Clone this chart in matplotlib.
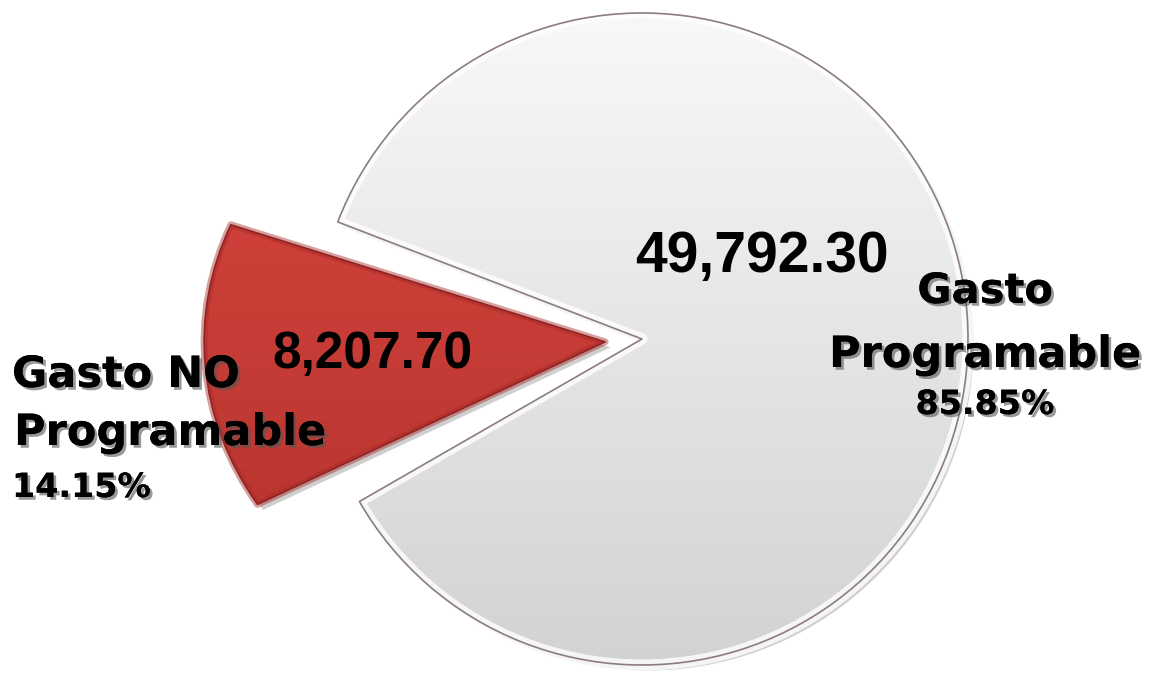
import numpy as np
import matplotlib
matplotlib.use("Agg")
import matplotlib.pyplot as plt
from matplotlib.transforms import Affine2D
import matplotlib.patheffects as pe
import copy

# ---- data ----
categories = ["Gasto Programable", "Gasto NO Programable"]
values = [49792.30, 8207.70]
percent_labels = ["85.85%", "14.15%"]
value_labels = ["49,792.30", "8,207.70"]

W, H = 1154, 673
fig = plt.figure(figsize=(W / 100, H / 100), dpi=100)
ax = fig.add_axes([0, 0, 1, 1])

center = (642, 334)
radius = 326
start = 209.9

# gray (programable) pie
gw, _ = ax.pie(values, colors=["#e8e8e8", "none"], startangle=start,
               counterclock=True, center=center, radius=radius,
               wedgeprops=dict(linewidth=0))
# red (no programable) pie, exploded (explode is in data units here)
rw, _ = ax.pie(values, colors=["none", "#c83c36"], startangle=start,
               counterclock=True, center=center, radius=radius,
               explode=[0, 37], wedgeprops=dict(linewidth=0))
gw[1].set_visible(False)
rw[0].set_visible(False)

ax.set_xlim(0, W)
ax.set_ylim(0, H)
ax.set_aspect("equal")
ax.axis("off")

gray = gw[0]
red = rw[1]

# stretch the red wedge horizontally about its tip (perspective look)
tip = red.center
stretch = Affine2D().translate(-tip[0], -tip[1]).scale(1.23, 1.0).translate(tip[0], tip[1])
red.set_transform(stretch + ax.transData)


def gradient_fill(patch, top_rgb, bot_rgb, extent, z):
    n = 256
    t = np.linspace(0, 1, n)[:, None]
    top = np.array(top_rgb)
    bot = np.array(bot_rgb)
    img = top[None, None, :] * (1 - t[..., None]) + bot[None, None, :] * t[..., None]
    img = np.repeat(img, 4, axis=1)
    im = ax.imshow(img, extent=extent, origin="upper", aspect="auto", zorder=z,
                   interpolation="bilinear")
    im.set_clip_path(patch)
    return im


def hex2rgb(h):
    h = h.lstrip("#")
    return [int(h[i:i + 2], 16) / 255 for i in (0, 2, 4)]


# shadows
for p in (gray, red):
    p.set_path_effects([pe.withSimplePatchShadow(offset=(4, -4), shadow_rgbFace="#777777", alpha=0.35),
                        pe.Normal()])
    p.set_zorder(1)

gradient_fill(gray, hex2rgb("#f9f9f9"), hex2rgb("#d2d2d2"), (0, W, 0, H), 2)
gradient_fill(red, hex2rgb("#de4840"), hex2rgb("#b0302c"), (0, W, 0, H), 2)

# bevel + edges
for p, bevel, blw, edge in ((gray, "#ffffff", 8, "#8c7c7e"), (red, "#a82a28", 5, "#8e2424")):
    b = copy.copy(p)
    b.set_path_effects([])
    b.set_facecolor("none")
    b.set_edgecolor(bevel)
    b.set_linewidth(blw)
    b.set_alpha(0.8 if p is gray else 0.45)
    b.set_joinstyle("round")
    b.set_zorder(3)
    ax.add_patch(b)
    b.set_clip_path(p)
    e = copy.copy(p)
    e.set_path_effects([])
    e.set_facecolor("none")
    e.set_edgecolor(edge)
    e.set_linewidth(1.2)
    e.set_joinstyle("round")
    e.set_zorder(4)
    ax.add_patch(e)
    e.set_clip_on(False)

shadow = [pe.withSimplePatchShadow(offset=(2, -2), shadow_rgbFace="#555555", alpha=0.6), pe.Normal()]

# value labels
ax.text(762, H - 272, value_labels[0], fontsize=41, fontweight="bold",
        family="Liberation Sans", ha="center", va="baseline", color="black", zorder=6)
ax.text(372, H - 368, value_labels[1], fontsize=37, fontweight="bold",
        family="Liberation Sans", ha="center", va="baseline", color="black", zorder=6)

# category labels - right
ax.text(985, H - 303, "Gasto", fontsize=30, fontweight="bold", family="DejaVu Sans",
        ha="center", va="baseline", zorder=6, path_effects=shadow)
ax.text(985, H - 367, "Programable", fontsize=31, fontweight="bold", family="DejaVu Sans",
        ha="center", va="baseline", zorder=6, path_effects=shadow)
ax.text(985, H - 414, percent_labels[0], fontsize=24, fontweight="bold", family="DejaVu Sans",
        ha="center", va="baseline", zorder=6, path_effects=shadow)

# category labels - left
ax.text(12, H - 387, "Gasto NO", fontsize=31, fontweight="bold", family="DejaVu Sans",
        ha="left", va="baseline", zorder=6, path_effects=shadow)
ax.text(14, H - 445, "Programable", fontsize=31, fontweight="bold", family="DejaVu Sans",
        ha="left", va="baseline", zorder=6, path_effects=shadow)
ax.text(12, H - 497, percent_labels[1], fontsize=24, fontweight="bold", family="DejaVu Sans",
        ha="left", va="baseline", zorder=6, path_effects=shadow)

fig.savefig("out.png", dpi=100, facecolor="white")
